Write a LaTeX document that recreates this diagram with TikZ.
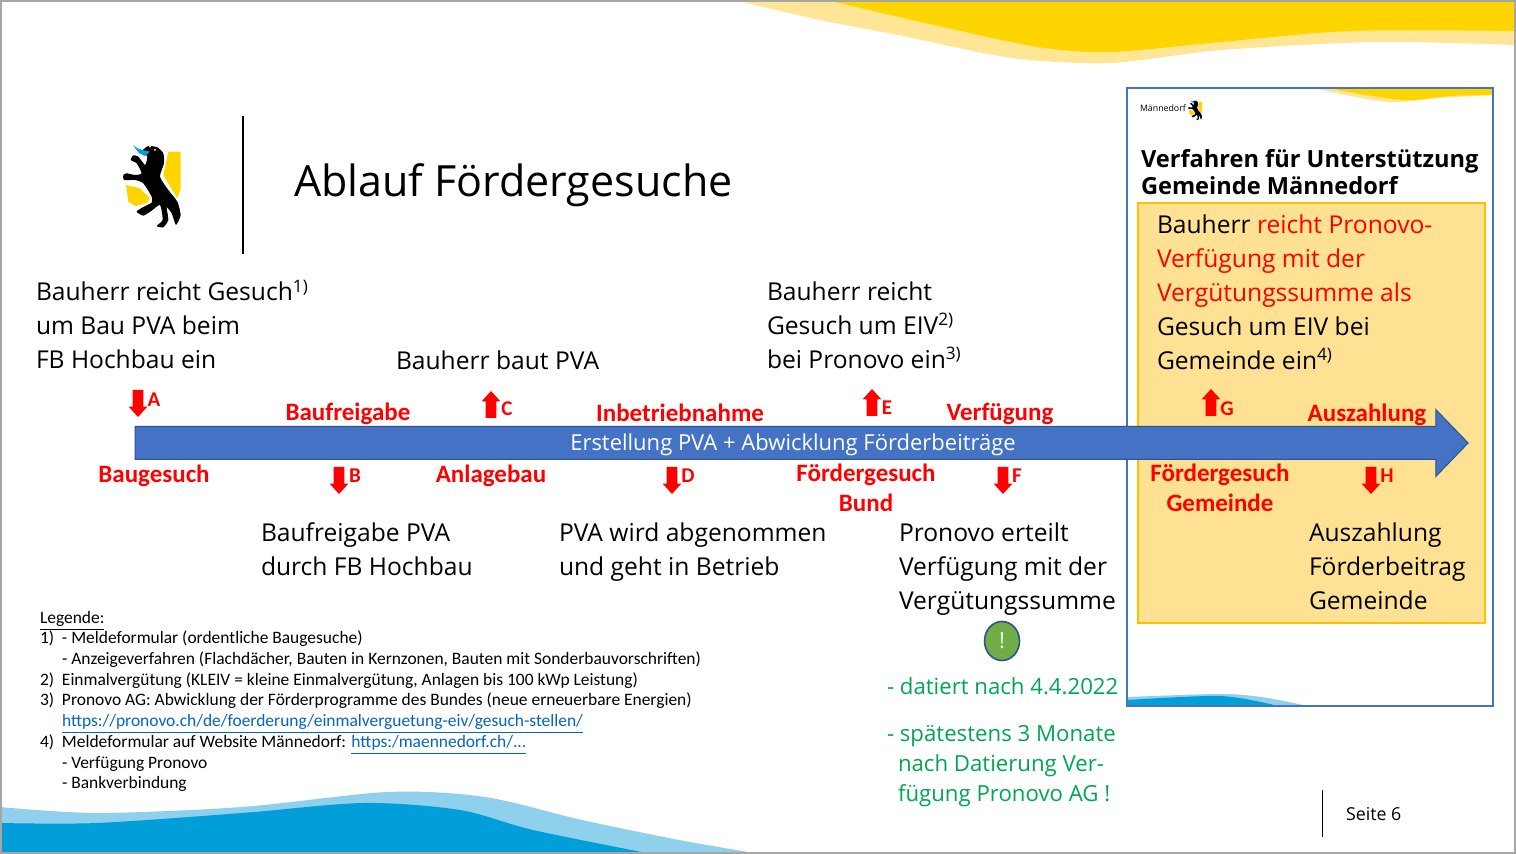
\documentclass[tikz,border=0pt]{standalone}
\usepackage{fontspec}
\setmainfont{Open Sans}
\newfontfamily\calibri{Carlito}
\usetikzlibrary{shapes,arrows,positioning}
\definecolor{wavedark}{HTML}{FFD500}
\definecolor{wavelight}{HTML}{FFE696}
\definecolor{seadark}{HTML}{009FDA}
\definecolor{sealight}{HTML}{8FD0EC}
\definecolor{pvablue}{HTML}{4472C4}
\definecolor{pvaedge}{HTML}{2F528F}
\definecolor{boxfill}{HTML}{FFE193}
\definecolor{boxedge}{HTML}{FFC000}
\definecolor{mygreen}{HTML}{00A650}
\definecolor{warngreen}{HTML}{70AD47}
\definecolor{linkblue}{HTML}{0563C1}
\begin{document}
\begin{tikzpicture}[
    x=0.5pt, y=-0.5pt,
    every node/.style={inner sep=0pt, outer sep=0pt},
    bodytext/.style={anchor=north west, align=left, font=\fontsize{12.3}{17}\selectfont},
    redlabel/.style={text=red, align=center, font=\calibri\bfseries\fontsize{12.5}{15}\selectfont},
    redletter/.style={text=red, font=\calibri\bfseries\fontsize{10.5}{12}\selectfont},
    greentext/.style={anchor=north west, align=left, text=mygreen, font=\fontsize{11.1}{15}\selectfont},
    redarrow/.style={single arrow, fill=red, minimum height=13.5pt, minimum width=9pt, inner sep=2.5pt,
        single arrow head extend=2pt, single arrow tip angle=84, anchor=tip},
    downmark/.style={redarrow, shape border rotate=270},
    upmark/.style={redarrow, shape border rotate=90},
    otter/.pic={
        \fill[wavedark] (205,95) -- (242,95) -- (242,205) -- (232,235) -- (190,165) -- cycle;
        \fill[wavedark] (78,195) -- (120,205) -- (150,235) -- (140,250) -- (105,258) -- (85,245) -- cycle;
        \fill[black] plot[smooth cycle, tension=0.35] coordinates {(128,92) (145,78) (172,82) (190,100)
            (192,130) (180,170) (205,210) (232,245) (242,285) (228,315) (215,280) (200,262) (205,300)
            (190,322) (170,318) (188,300) (180,255) (155,272) (130,287) (110,275) (128,262) (155,248)
            (155,230) (130,190) (105,180) (72,180) (70,165) (80,160) (105,165) (125,160) (110,130)
            (92,120) (100,106) (115,110) (135,135) (142,110)};
        \fill[seadark] (100,75) -- (112,85) -- (128,90) -- (150,95) -- (135,108) -- (118,100) -- (108,88) -- cycle;
        \fill[white] (150,80) circle[radius=3] (165,90) circle[radius=3];
    }
]
    % Slide frame and waves
    \path[use as bounding box] (0,0) rectangle (1516,854);
    \fill[wavelight] (742,0) -- plot[smooth] coordinates {(742,2) (820,20) (908,37) (1012,58) (1111,63) (1221,50) (1377,42) (1516,45)} -- (1516,0) -- cycle;
    \fill[wavedark] (835,0) -- plot[smooth] coordinates {(835,2) (934,25) (1038,47) (1111,52) (1221,42) (1351,31) (1516,31)} -- (1516,0) -- cycle;
    \fill[sealight] (0,854) -- plot[smooth] coordinates {(0,807) (97,813) (242,807) (388,792) (485,797) (582,820) (679,840) (760,854)} -- cycle;
    \fill[seadark] (0,854) -- plot[smooth] coordinates {(0,823) (97,823) (242,813) (364,803) (460,810) (533,830) (652,854)} -- cycle;
    \draw[line width=1pt, black!35] (1,1) rectangle (1515,853);

    % Title
    \pic[scale=0.3333] at (100,120) {otter};
    \draw[line width=1pt] (243,116) -- (243,254);
    \node[anchor=base west, font=\fontsize{21.5}{26}\selectfont] (title) at (294,197) {Ablauf Fördergesuche};

    % Panel with waves
    \fill[white] (1127,88) rectangle (1493,706);
    \fill[wavelight] (1317,89) -- plot[smooth] coordinates {(1317,89) (1387,102) (1440,98) (1492,95)} -- (1492,89) -- cycle;
    \fill[wavedark] (1337,89) -- plot[smooth] coordinates {(1337,90) (1403,100) (1450,96) (1492,95)} -- (1492,89) -- cycle;
    \fill[sealight] (1128,705) -- plot[smooth] coordinates {(1128,697) (1220,694) (1261,697) (1303,705)} -- cycle;
    \fill[seadark] (1128,705) -- plot[smooth] coordinates {(1128,700) (1220,696) (1274,705)} -- cycle;
    \node[draw=pvablue, line width=1pt, minimum width=183pt, minimum height=309pt, anchor=north west] (panel) at (1127,88) {};
    \pic[scale=0.08] at (1182.7,94.4) {otter};
    \node[anchor=west, font=\fontsize{4.4}{5}\selectfont] (town) at (1140,108) {Männedorf};
    \node[anchor=north west, align=left, font=\bfseries\fontsize{11.8}{13.5}\selectfont] (panelhead) at (1141,149) {Verfahren für Unterstützung\\Gemeinde Männedorf};
    \node[draw=boxedge, fill=boxfill, line width=1pt, minimum width=173.5pt, minimum height=210pt, anchor=north west] (yellowbox) at (1138,203) {};

    % Timeline
    \node[single arrow, draw=pvaedge, fill=pvablue, line width=0.5pt, minimum height=666.5pt, minimum width=33pt, inner ysep=8pt,
        single arrow head extend=8.5pt, single arrow tip angle=92, anchor=west] (timeline) at (135,443) {};
    \node[text=white, font=\fontsize{11}{13}\selectfont] (timelabel) at (793,445) {Erstellung PVA + Abwicklung Förderbeiträge};

    % Steps above
    \node[bodytext] (stepA) at (36,280) {Bauherr reicht Gesuch\textsuperscript{1)}\\um Bau PVA beim\\FB Hochbau ein};
    \node[bodytext] (stepC) at (396,351) {Bauherr baut PVA};
    \node[bodytext] (stepE) at (767,282) {Bauherr reicht\\Gesuch um EIV\textsuperscript{2)}\\bei Pronovo ein\textsuperscript{3)}};
    \node[bodytext] (stepG) at (1157,215) {Bauherr \textcolor{red}{reicht Pronovo-}\\\textcolor{red}{Verfügung mit der}\\\textcolor{red}{Vergütungssumme als}\\Gesuch um EIV bei\\Gemeinde ein\textsuperscript{4)}};

    % Steps below
    \node[bodytext] (stepB) at (261,523) {Baufreigabe PVA\\durch FB Hochbau};
    \node[bodytext] (stepD) at (559,523) {PVA wird abgenommen\\und geht in Betrieb};
    \node[bodytext] (stepF) at (899,523) {Pronovo erteilt\\Verfügung mit der\\Vergütungssumme};
    \node[bodytext] (stepH) at (1309,523) {Auszahlung\\Förderbeitrag\\Gemeinde};

    % Red labels
    \node[redlabel] (Baugesuch) at (154,476) {Baugesuch};
    \node[redlabel] (Baufreigabe) at (348,414) {Baufreigabe};
    \node[redlabel] (Anlagebau) at (491,476) {Anlagebau};
    \node[redlabel] (Inbetrieb) at (680,413) {Inbetriebnahme};
    \node[redlabel] (FoerderBund) at (866,488) {Fördergesuch\\Bund};
    \node[redlabel] (Verfuegung) at (1000,414) {Verfügung};
    \node[redlabel] (FoerderGem) at (1220,488) {Fördergesuch\\Gemeinde};
    \node[redlabel] (Auszahlung) at (1367,415) {Auszahlung};

    % Red marks
    \node[downmark] (markA) at (138,417) {};
    \node[redletter] (letterA) at (154,400) {A};
    \node[downmark] (markB) at (339,494) {};
    \node[redletter] (letterB) at (355,476) {B};
    \node[upmark] (markC) at (491,391) {};
    \node[redletter] (letterC) at (507,409) {C};
    \node[downmark] (markD) at (672,494) {};
    \node[redletter] (letterD) at (688,476) {D};
    \node[upmark] (markE) at (872,389) {};
    \node[redletter] (letterE) at (887,408) {E};
    \node[downmark] (markF) at (1003,494) {};
    \node[redletter] (letterF) at (1017,476) {F};
    \node[upmark] (markG) at (1211,389) {};
    \node[redletter] (letterG) at (1227,409) {G};
    \node[downmark] (markH) at (1371,494) {};
    \node[redletter] (letterH) at (1387,476) {H};

    % Warning and notes
    \node[shape=ellipse, draw=pvaedge, fill=warngreen, line width=0.8pt, minimum width=17.5pt, minimum height=19.5pt,
        text=white, font=\fontsize{11}{13}\selectfont] (warn) at (1002,641) {!};
    \node[greentext] (noteA) at (887,678) {- datiert nach 4.4.2022};
    \node[greentext] (noteB) at (887,725) {- spätestens 3 Monate\\\hspace*{5.5pt}nach Datierung Ver-\\\hspace*{5.5pt}fügung Pronovo AG !};

    % Legend
    \node[anchor=north west, align=left, font=\calibri\fontsize{8.72}{10.35}\selectfont] (legend) at (40,611) {%
        \underline{Legende:}\\
        \makebox[11pt][l]{1)}- Meldeformular (ordentliche Baugesuche)\\
        \hspace*{11pt}- Anzeigeverfahren (Flachdächer, Bauten in Kernzonen, Bauten mit Sonderbauvorschriften)\\
        \makebox[11pt][l]{2)}Einmalvergütung (KLEIV = kleine Einmalvergütung, Anlagen bis 100 kWp Leistung)\\
        \makebox[11pt][l]{3)}Pronovo AG: Abwicklung der Förderprogramme des Bundes (neue erneuerbare Energien)\\
        \hspace*{11pt}\textcolor{linkblue}{\underline{https://pronovo.ch/de/foerderung/einmalverguetung-eiv/gesuch-stellen/}}\\
        \makebox[11pt][l]{4)}Meldeformular auf Website Männedorf: \textcolor{linkblue}{\underline{https:/maennedorf.ch/...}}\\
        \hspace*{11pt}- Verfügung Pronovo\\
        \hspace*{11pt}- Bankverbindung};

    % Page number
    \draw[line width=0.5pt] (1322.5,790) -- (1322.5,837);
    \node[anchor=base west, font=\fontsize{8.9}{11}\selectfont] (page) at (1346,821) {Seite 6};
\end{tikzpicture}
\end{document}
